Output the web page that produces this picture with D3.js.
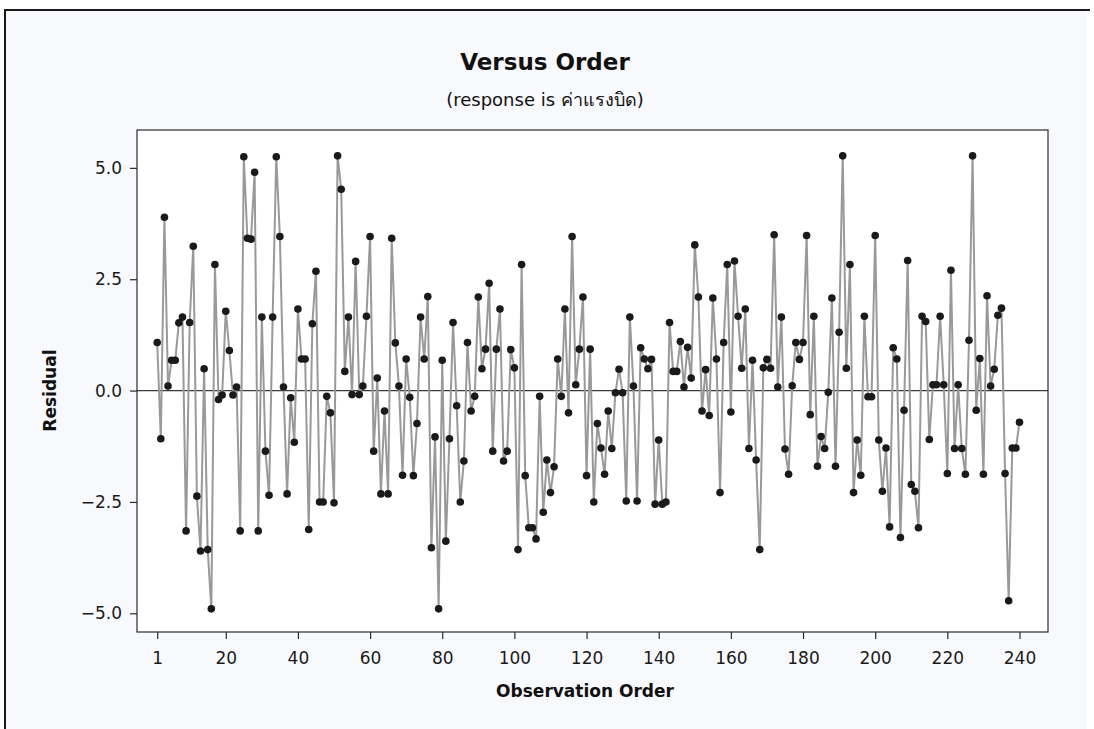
<!DOCTYPE html>
<html>
<head>
<meta charset="utf-8">
<script src="https://cdn.jsdelivr.net/npm/d3@7"></script>
<style>
  body { margin: 0; background: #ffffff; }
  text { font-family: "DejaVu Sans", Verdana, "Noto Sans", sans-serif; }
</style>
</head>
<body>
<svg id="chart" width="1094" height="729"></svg>
<script>
// Residuals in observation order (response: ค่าแรงบิด)
const residuals = [
   1.08, -1.08,  3.89,  0.10,  0.68,  0.68,  1.52,  1.65, -3.15,  1.53,
   3.24, -2.37, -3.60,  0.49, -3.57, -4.90,  2.83, -0.20, -0.10,  1.78,
   0.90, -0.10,  0.08, -3.15,  5.25,  3.42,  3.40,  4.90, -3.15,  1.65,
  -1.36, -2.35,  1.65,  5.25,  3.46,  0.08, -2.32, -0.16, -1.16,  1.83,
   0.71,  0.71, -3.12,  1.50,  2.68, -2.50, -2.50, -0.13, -0.50, -2.52,
   5.27,  4.52,  0.43,  1.65, -0.09,  2.90, -0.09,  0.10,  1.67,  3.46,
  -1.36,  0.28, -2.32, -0.46, -2.32,  3.42,  1.07,  0.10, -1.90,  0.71,
  -0.15, -1.91, -0.74,  1.65,  0.71,  2.11, -3.53, -1.04, -4.90,  0.68,
  -3.38, -1.08,  1.53, -0.34, -2.50, -1.58,  1.08, -0.46, -0.13,  2.10,
   0.49,  0.93,  2.41, -1.36,  0.93,  1.83, -1.58, -1.36,  0.92,  0.51,
  -3.57,  2.83, -1.91, -3.08, -3.08, -3.33, -0.13, -2.73, -1.56, -2.29,
  -1.71,  0.71, -0.13,  1.83, -0.50,  3.46,  0.13,  0.93,  2.10, -1.91,
   0.93, -2.50, -0.74, -1.29, -1.88, -0.46, -1.30, -0.05,  0.48, -0.05,
  -2.48,  1.65,  0.10, -2.48,  0.96,  0.71,  0.49,  0.70, -2.55, -1.11,
  -2.55, -2.50,  1.53,  0.43,  0.43,  1.10,  0.08,  0.97,  0.28,  3.27,
   2.10, -0.46,  0.47, -0.56,  2.08,  0.71, -2.29,  1.08,  2.83, -0.48,
   2.91,  1.67,  0.50,  1.83, -1.30,  0.68, -1.56, -3.57,  0.51,  0.70,
   0.50,  3.50,  0.08,  1.65, -1.31, -1.88,  0.11,  1.08,  0.70,  1.08,
   3.48, -0.54,  1.67, -1.70, -1.03, -1.30, -0.04,  2.08, -1.70,  1.31,
   5.27,  0.50,  2.83, -2.29, -1.11, -1.90,  1.67, -0.14, -0.14,  3.48,
  -1.11, -2.26, -1.29, -3.06,  0.96,  0.71, -3.30, -0.44,  2.92, -2.11,
  -2.26, -3.08,  1.67,  1.55, -1.10,  0.13,  0.13,  1.67,  0.13, -1.86,
   2.70, -1.30,  0.13, -1.30, -1.88,  1.13,  5.27, -0.44,  0.72, -1.88,
   2.13,  0.10,  0.48,  1.69,  1.85, -1.86, -4.72, -1.29, -1.29, -0.71
];
const order = d3.range(1, residuals.length + 1);

const xTickValues = [1, 20, 40, 60, 80, 100, 120, 140, 160, 180, 200, 220, 240];
const yTickValues = [-5, -2.5, 0, 2.5, 5];

const titleText = "Versus Order";
const subtitleText = "(response is ค่าแรงบิด)";
const xLabel = "Observation Order";
const yLabel = "Residual";

const W = 1094, H = 729;
const box = { left: 137, right: 1048, top: 130, bottom: 632 };

const svg = d3.select("#chart");

// graph panel (outer frame)
svg.append("rect")
  .attr("x", 5).attr("y", 10).attr("width", W - 12).attr("height", H - 8)
  .attr("fill", "#f8f9fc");
svg.append("path")
  .attr("d", `M5,${H} V10 H${W - 4}`)
  .attr("fill", "none").attr("stroke", "#1a1a1a").attr("stroke-width", 2);

// data region
svg.append("rect")
  .attr("x", box.left).attr("y", box.top)
  .attr("width", box.right - box.left).attr("height", box.bottom - box.top)
  .attr("fill", "#ffffff");

const x = d3.scaleLinear().domain([-4.6, 247.9]).range([box.left, box.right]);
const y = d3.scaleLinear().domain([-5.42, 5.85]).range([box.bottom, box.top]);

// zero reference line
svg.append("line")
  .attr("x1", box.left).attr("x2", box.right)
  .attr("y1", y(0)).attr("y2", y(0))
  .attr("stroke", "#3a3a3a").attr("stroke-width", 1.3);

// connecting line
const line = d3.line().x((d, i) => x(order[i])).y(d => y(d));
svg.append("path")
  .datum(residuals)
  .attr("d", line)
  .attr("fill", "none")
  .attr("stroke", "#999999")
  .attr("stroke-width", 2)
  .attr("stroke-linejoin", "round");

// points
svg.append("g")
  .selectAll("circle")
  .data(residuals)
  .join("circle")
  .attr("cx", (d, i) => x(order[i]))
  .attr("cy", d => y(d))
  .attr("r", 3.8)
  .attr("fill", "#1a1a1a");

// frame of the data region
svg.append("rect")
  .attr("x", box.left).attr("y", box.top)
  .attr("width", box.right - box.left).attr("height", box.bottom - box.top)
  .attr("fill", "none").attr("stroke", "#2a2a2a").attr("stroke-width", 1.2);

// axes
const xAxis = d3.axisBottom(x).tickValues(xTickValues).tickSize(7).tickPadding(13)
  .tickFormat(d3.format("d"));
const yAxis = d3.axisLeft(y).tickValues(yTickValues).tickSize(7).tickPadding(8)
  .tickFormat(d3.format(".1f"));

const gx = svg.append("g").attr("transform", `translate(0,${box.bottom})`).call(xAxis);
const gy = svg.append("g").attr("transform", `translate(${box.left},0)`).call(yAxis);
[gx, gy].forEach(g => {
  g.select(".domain").remove();
  g.selectAll(".tick line").attr("stroke", "#2a2a2a").attr("stroke-width", 1.2);
  g.selectAll(".tick text").attr("fill", "#1a1a1a")
    .style("font-size", "17px")
    .style("font-family", "\"DejaVu Sans\", Verdana, sans-serif");
});

// titles
svg.append("text")
  .attr("x", 545).attr("y", 70)
  .attr("text-anchor", "middle")
  .style("font-size", "23px").style("font-weight", "bold")
  .attr("fill", "#111")
  .text(titleText);
svg.append("text")
  .attr("x", 545).attr("y", 106)
  .attr("text-anchor", "middle")
  .style("font-size", "18px")
  .attr("fill", "#111")
  .text(subtitleText);

svg.append("text")
  .attr("x", 585).attr("y", 697)
  .attr("text-anchor", "middle")
  .style("font-size", "17px").style("font-weight", "bold")
  .attr("fill", "#111")
  .text(xLabel);
svg.append("text")
  .attr("transform", `translate(56,${y(0)}) rotate(-90)`)
  .attr("text-anchor", "middle")
  .style("font-size", "17px").style("font-weight", "bold")
  .attr("fill", "#111")
  .text(yLabel);
</script>
</body>
</html>
